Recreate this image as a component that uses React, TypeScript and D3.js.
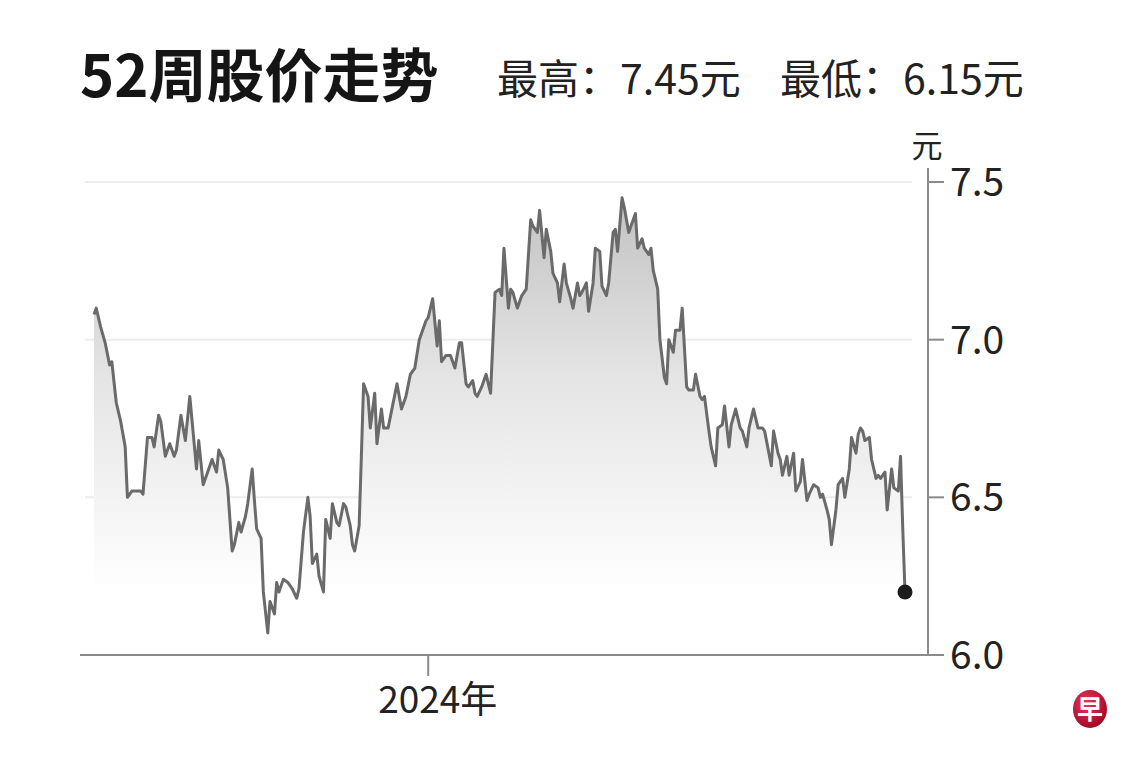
import * as React from 'react'
import * as d3 from 'd3'

// 52-week closing prices: [days since first session, close in 元]
const firstSession = '2023-08-04'
const closes: [number, number][] = [
  [0, 7.08], [1, 7.10], [3, 7.04], [5, 6.99], [7, 6.92], [8, 6.93], [10, 6.80], [12, 6.74], [14, 6.66], [15, 6.50],
  [17, 6.52], [19, 6.52], [21, 6.52], [22, 6.51], [24, 6.69], [26, 6.69], [27, 6.66], [29, 6.76], [30, 6.74], [32, 6.63],
  [34, 6.67], [36, 6.63], [37, 6.65], [39, 6.76], [41, 6.68], [43, 6.82], [46, 6.59], [47, 6.68], [49, 6.54], [50, 6.56],
  [53, 6.62], [55, 6.58], [56, 6.65], [58, 6.62], [60, 6.53], [62, 6.33], [63, 6.35], [65, 6.42], [66, 6.39], [68, 6.44],
  [69, 6.48], [71, 6.59], [72, 6.49], [73, 6.40], [75, 6.37], [76, 6.20], [78, 6.07], [79, 6.17], [81, 6.13], [82, 6.23],
  [83, 6.20], [85, 6.24], [87, 6.23], [89, 6.21], [91, 6.18], [92, 6.21], [94, 6.39], [96, 6.50], [97, 6.44], [98, 6.29],
  [100, 6.32], [101, 6.25], [103, 6.20], [104, 6.43], [106, 6.37], [107, 6.48], [109, 6.42], [110, 6.41], [112, 6.48], [113, 6.47],
  [115, 6.41], [116, 6.35], [117, 6.33], [119, 6.41], [120, 6.63], [121, 6.86], [123, 6.82], [124, 6.72], [126, 6.83], [127, 6.67],
  [129, 6.78], [130, 6.72], [132, 6.72], [134, 6.79], [136, 6.86], [138, 6.78], [140, 6.82], [142, 6.89], [144, 6.91], [146, 7.00],
  [149, 7.06], [150, 7.07], [152, 7.13], [154, 6.98], [155, 7.06], [156, 6.93], [158, 6.95], [160, 6.95], [162, 6.91], [164, 6.99],
  [165, 6.99], [167, 6.86], [168, 6.85], [170, 6.87], [171, 6.83], [172, 6.82], [174, 6.85], [176, 6.89], [177, 6.86], [178, 6.83],
  [180, 7.15], [182, 7.16], [183, 7.14], [184, 7.29], [186, 7.10], [187, 7.16], [188, 7.15], [190, 7.10], [192, 7.14], [194, 7.16],
  [196, 7.38], [197, 7.36], [199, 7.34], [200, 7.41], [202, 7.26], [203, 7.35], [205, 7.28], [206, 7.21], [208, 7.18], [209, 7.12],
  [211, 7.24], [212, 7.18], [214, 7.13], [215, 7.10], [217, 7.18], [218, 7.14], [219, 7.15], [221, 7.18], [222, 7.09], [224, 7.18],
  [225, 7.29], [227, 7.28], [228, 7.17], [230, 7.14], [231, 7.18], [233, 7.34], [234, 7.35], [235, 7.28], [237, 7.45], [238, 7.42],
  [240, 7.34], [241, 7.36], [243, 7.40], [244, 7.29], [246, 7.32], [247, 7.29], [249, 7.27], [250, 7.29], [251, 7.22], [253, 7.16],
  [254, 7.00], [256, 6.88], [257, 6.86], [258, 7.00], [260, 6.96], [261, 7.03], [263, 7.03], [264, 7.10], [266, 6.85], [267, 6.84],
  [269, 6.84], [270, 6.89], [272, 6.82], [273, 6.81], [274, 6.82], [276, 6.71], [277, 6.66], [279, 6.60], [280, 6.72], [282, 6.73],
  [283, 6.79], [285, 6.66], [286, 6.73], [288, 6.78], [290, 6.72], [291, 6.71], [293, 6.66], [294, 6.72], [296, 6.78], [298, 6.72],
  [300, 6.72], [301, 6.71], [304, 6.60], [305, 6.71], [307, 6.64], [308, 6.62], [309, 6.57], [311, 6.63], [312, 6.57], [314, 6.64],
  [315, 6.52], [317, 6.55], [318, 6.62], [320, 6.49], [321, 6.51], [323, 6.54], [325, 6.53], [326, 6.50], [327, 6.51], [329, 6.46],
  [330, 6.43], [331, 6.35], [333, 6.46], [334, 6.54], [336, 6.56], [337, 6.50], [339, 6.59], [340, 6.69], [342, 6.64], [343, 6.70],
  [344, 6.72], [345, 6.71], [346, 6.68], [348, 6.69], [349, 6.62], [351, 6.56], [352, 6.57], [353, 6.56], [355, 6.58], [356, 6.46],
  [358, 6.59], [359, 6.53], [361, 6.52], [362, 6.63], [363, 6.40], [364, 6.20],
]

const priceTicks = [6.0, 6.5, 7.0, 7.5]
const gridPrices = [6.5, 7.0, 7.5]
const yearTicks = [{date: '2024-01-01', label: '2024年'}]

const titleText = '52周股价走势'
const highText = '最高：7.45元'
const lowText = '最低：6.15元'
const unitText = '元'

const W = 1140
const H = 760
const font = '"Noto Sans CJK SC", "Noto Sans", sans-serif'

const App = () => {
    const parse = d3.timeParse('%Y-%m-%d')
    const start = parse(firstSession)
    const end = d3.timeDay.offset(start, closes[closes.length - 1][0])

    const xScale = d3.scaleTime()
                    .domain([start, end])
                    .range([94, 905])

    const yScale = d3.scaleLinear()
                    .domain([6, 7.5])
                    .range([655, 182])

    const points = closes.map(([day, close]) => ({date: d3.timeDay.offset(start, day), close}))

    const line = d3.line()
                    .x(d => xScale(d.date))
                    .y(d => yScale(d.close))

    const area = d3.area()
                    .x(d => xScale(d.date))
                    .y0(yScale(6))
                    .y1(d => yScale(d.close))

    const last = points[points.length - 1]
    const axisX = 928

    return (
        <svg width={W} height={H} style={{position: 'absolute', left: 0, top: 0, background: '#fff'}}>
            <defs>
                <linearGradient id="fade" gradientUnits="userSpaceOnUse" x1={0} x2={0} y1={yScale(7.45)} y2={yScale(6.2)}>
                    <stop offset="0" stopColor="#c2c2c2"/>
                    <stop offset="0.45" stopColor="#e4e4e4"/>
                    <stop offset="1" stopColor="#ffffff"/>
                </linearGradient>
                <radialGradient id="logo" cx="0.4" cy="0.35" r="0.75">
                    <stop offset="0" stopColor="#e23a5c"/>
                    <stop offset="1" stopColor="#9e001c"/>
                </radialGradient>
            </defs>

            <text x={80} y={97} fontFamily={font} fontWeight={700} fontSize={58} fill="#151515">{titleText}</text>
            <text x={497} y={94} fontFamily={font} fontSize={41} fill="#222">{highText}</text>
            <text x={780} y={94} fontFamily={font} fontSize={41} fill="#222">{lowText}</text>

            {gridPrices.map(p => (
                <line key={p} x1={85} x2={912} y1={yScale(p)} y2={yScale(p)} stroke="#ededed" strokeWidth={2}/>
            ))}

            <path d={area(points)} fill="url(#fade)"/>
            <path d={line(points)} fill="none" stroke="#6a6a6a" strokeWidth={3} strokeLinejoin="round"/>
            <circle cx={xScale(last.date)} cy={yScale(last.close)} r={7.5} fill="#1c1c1c"/>

            <line x1={80} x2={944} y1={yScale(6)} y2={yScale(6)} stroke="#8a8a8a" strokeWidth={2}/>
            <line x1={axisX} x2={axisX} y1={168} y2={yScale(6)} stroke="#8a8a8a" strokeWidth={2}/>
            {priceTicks.map(p => (
                <g key={p}>
                    <line x1={axisX} x2={944} y1={yScale(p)} y2={yScale(p)} stroke="#8a8a8a" strokeWidth={2}/>
                    <text x={950} y={yScale(p) + 14} fontFamily={font} fontSize={39} fill="#222">{p.toFixed(1)}</text>
                </g>
            ))}
            <text x={927} y={157} textAnchor="middle" fontFamily={font} fontSize={31} fill="#222">{unitText}</text>

            {yearTicks.map(t => {
                const tx = xScale(parse(t.date))
                return (
                    <g key={t.label}>
                        <line x1={tx} x2={tx} y1={yScale(6)} y2={676} stroke="#8a8a8a" strokeWidth={2}/>
                        <text x={tx - 50} y={713} fontFamily={font} fontSize={37} fill="#222">{t.label}</text>
                    </g>
                )
            })}

            <ellipse cx={1090} cy={709} rx={17} ry={19} fill="url(#logo)"/>
            <text x={1090} y={719} textAnchor="middle" fontFamily={font} fontWeight={700} fontSize={26} fill="#fff">早</text>
        </svg>
    )
}

export default App
